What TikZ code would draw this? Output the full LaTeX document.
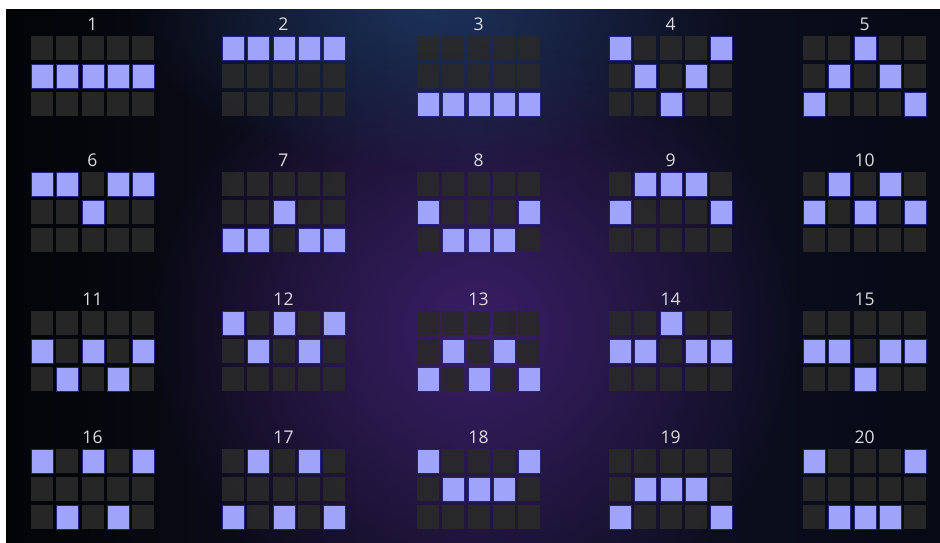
\documentclass[tikz,border=0pt]{standalone}
\usepackage{fontspec}
\setmainfont{Open Sans}
\usetikzlibrary{fadings}
\tikzfading[name=myglow, inner color=transparent!0, outer color=transparent!100]
\definecolor{litc}{HTML}{A0A3FA}
\definecolor{litb}{HTML}{20247A}
\definecolor{offc}{HTML}{292929}
\definecolor{numc}{HTML}{DCDCE0}
\definecolor{bgl}{HTML}{020406}
\definecolor{bgm}{HTML}{14122A}
\definecolor{bgr}{HTML}{050A14}
\definecolor{glowp}{HTML}{3A1E66}
\definecolor{glowb}{HTML}{1E3A66}
\tikzset{
  offcell/.style={fill=offc, fill opacity=0.92, inner sep=0pt, minimum width=22pt, minimum height=24pt, anchor=north west, draw=none},
  oncell/.style={fill=litc, draw=litb, line width=0.7pt, inner sep=0pt, minimum width=22pt, minimum height=24pt, anchor=north west},
  numlabel/.style={text=numc, font=\fontsize{17.5}{17.5}\selectfont, inner sep=0pt}
}
\begin{document}
\begin{tikzpicture}[x=1pt,y=-1pt]
\useasboundingbox (0,0) rectangle (940,542);
\fill[white] (0,0) rectangle (940,542);
\begin{scope}
\clip (6,9) rectangle (940,542);
\shade[left color=bgl, right color=bgr, middle color=bgm] (6,9) rectangle (940,542);
\fill[glowp, path fading=myglow] (475,330) ellipse (330pt and 300pt);
\fill[glowb, path fading=myglow, opacity=0.8] (430,10) ellipse (300pt and 160pt);
\end{scope}
\foreach \n/\pat in {1/{2,2,2,2,2},2/{1,1,1,1,1},3/{3,3,3,3,3},4/{1,2,3,2,1},5/{3,2,1,2,3},
  6/{1,1,2,1,1},7/{3,3,2,3,3},8/{2,3,3,3,2},9/{2,1,1,1,2},10/{2,1,2,1,2},
  11/{2,3,2,3,2},12/{1,2,1,2,1},13/{3,2,3,2,3},14/{2,2,1,2,2},15/{2,2,3,2,2},
  16/{1,3,1,3,1},17/{3,1,3,1,3},18/{1,2,2,2,1},19/{3,2,2,2,3},20/{1,3,3,3,1}}{
  \pgfmathsetmacro\xo{{31,222,417,609,803}[int(mod(\n-1,5))]}
  \pgfmathsetmacro\yo{{36,172,311,449}[int((\n-1)/5)]}
  \node[numlabel] (lab\n) at (\xo+61.5,\yo-12) {\n};
  \foreach \v [count=\i] in \pat {
    \foreach \j in {1,2,3} {
      \ifnum\j=\v\relax
        \node[oncell] (c\n-\i-\j) at ({\xo+(\i-1)*25.25},{\yo+(\j-1)*28}) {};
      \else
        \node[offcell] (c\n-\i-\j) at ({\xo+(\i-1)*25.25},{\yo+(\j-1)*28}) {};
      \fi
    }
  }
}
\end{tikzpicture}
\end{document}
